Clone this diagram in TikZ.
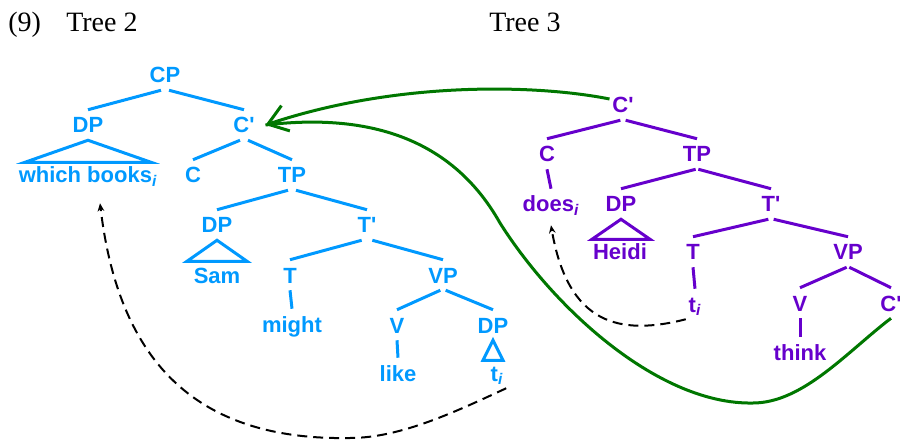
\documentclass[tikz,border=0pt]{standalone}
\usepackage{fontspec}
\setmainfont{Liberation Serif}
\setsansfont{Liberation Sans}
\usetikzlibrary{arrows.meta}

\definecolor{treeblue}{RGB}{0,153,255}
\definecolor{treepurple}{RGB}{102,0,204}
\definecolor{movegreen}{RGB}{0,119,0}

\newcommand{\sub}{\textsubscript{\textit{i}}}
\newcommand{\Cbar}{C\textquotesingle}
\newcommand{\Tbar}{T\textquotesingle}

\begin{document}
\begin{tikzpicture}[
    x=0.75pt, y=-0.75pt,
    >=Stealth,
    cat/.style={font=\sffamily\bfseries\fontsize{16.5}{19}\selectfont, anchor=base, text height=12pt, text depth=0pt, inner xsep=2pt, inner ysep=5.25pt},
    two/.style={cat, text=treeblue},
    three/.style={cat, text=treepurple},
    branch2/.style={draw=treeblue, line width=2.25pt},
    branch3/.style={draw=treepurple, line width=2.25pt},
    move/.style={draw=black, dash pattern=on 7.5pt off 4.5pt, line width=1.5pt, -{Stealth[length=6pt,width=5pt]}},
    remerge/.style={draw=movegreen, line width=2.25pt},
    header/.style={anchor=base west, inner sep=0pt, font=\fontsize{21}{25}\selectfont}
]
\useasboundingbox (0,0) rectangle (900,442);

% Header
\node[header] (exnum) at (8,32) {(9)};
\node[header] (title2) at (66,32) {Tree 2};
\node[header] (title3) at (489,32) {Tree 3};

% Tree 2
\node[two] (cp2) at (165,83) {CP};
\node[two] (dp2) at (88,133) {DP};
\node[two] (cbar2) at (244,133) {\Cbar};
\node[two] (wb) at (88,183) {which books\sub};
\node[two] (c2) at (193,183) {C};
\node[two] (tp2) at (292,183) {TP};
\node[two] (dpsam) at (217,233) {DP};
\node[two] (tbar2) at (367,233) {\Tbar};
\node[two] (sam) at (217,283) {Sam};
\node[two] (t2) at (290,283) {T};
\node[two] (vp2) at (443,283) {VP};
\node[two] (might) at (292,332) {might};
\node[two] (v2) at (397,333) {V};
\node[two] (dpobj) at (493,333) {DP};
\node[two] (like) at (398,381) {like};
\node[two] (ti2) at (497,381) {t\sub};

\draw[branch2] ([xshift=-3pt]cp2.south) -- (dp2.north);
\draw[branch2] ([xshift=3pt]cp2.south) -- (cbar2.north);
\draw[branch2] (dp2.south) -- ++(-63,22) -- ++(126,0) -- cycle;
\draw[branch2] ([xshift=-3pt]cbar2.south) -- (c2.north);
\draw[branch2] ([xshift=3pt]cbar2.south) -- (tp2.north);
\draw[branch2] ([xshift=-3pt]tp2.south) -- (dpsam.north);
\draw[branch2] ([xshift=3pt]tp2.south) -- (tbar2.north);
\draw[branch2] (dpsam.south) -- ++(-30,21) -- ++(60,0) -- cycle;
\draw[branch2] ([xshift=-4pt]tbar2.south) -- (t2.north);
\draw[branch2] ([xshift=4pt]tbar2.south) -- (vp2.north);
\draw[branch2] (t2.south) -- (might.north);
\draw[branch2] ([xshift=-2pt]vp2.south) -- (v2.north);
\draw[branch2] ([xshift=2pt]vp2.south) -- (dpobj.north);
\draw[branch2] (v2.south) -- (like.north);
\draw[branch2] (dpobj.south) -- ++(-10,20) -- ++(20,0) -- cycle;

% Tree 3
\node[three] (cbar3) at (623,113) {\Cbar};
\node[three] (c3) at (547,162) {C};
\node[three] (tp3) at (697,162) {TP};
\node[three] (does) at (551,212) {does\sub};
\node[three] (dp3) at (621,212) {DP};
\node[three] (tbar3) at (771,212) {\Tbar};
\node[three] (heidi) at (620,260) {Heidi};
\node[three] (t3) at (693,260) {T};
\node[three] (vp3) at (848,260) {VP};
\node[three] (ti3) at (695,312) {t\sub};
\node[three] (v3) at (800,311) {V};
\node[three] (cbarlow) at (891,311) {\Cbar};
\node[three] (think) at (800,360) {think};

\draw[branch3] ([xshift=-2pt]cbar3.south) -- (c3.north);
\draw[branch3] ([xshift=2pt]cbar3.south) -- (tp3.north);
\draw[branch3] (c3.south) -- (does.north);
\draw[branch3] ([xshift=-1pt]tp3.south) -- (dp3.north);
\draw[branch3] ([xshift=1pt]tp3.south) -- (tbar3.north);
\draw[branch3] (dp3.south) -- ++(-29,20) -- ++(58,0) -- cycle;
\draw[branch3] ([xshift=-2pt]tbar3.south) -- (t3.north);
\draw[branch3] ([xshift=2pt]tbar3.south) -- (vp3.north);
\draw[branch3] (t3.south) -- (ti3.north);
\draw[branch3] ([xshift=-1pt]vp3.south) -- (v3.north);
\draw[branch3] ([xshift=1pt]vp3.south) -- (cbarlow.north);
\draw[branch3] (v3.south) -- (think.north);

% Movement
\coordinate (hit) at ([xshift=6pt]cbar2.east);
\draw[remerge, -{Straight Barb[length=14pt,width=20pt]}] ([yshift=4.5pt]cbar3.west) .. controls (540,85) and (400,80) .. (hit);
\draw[remerge] (cbarlow.south) .. controls (848,351) and (803,403) .. (753,403)
    .. controls (660,405) and (555,310) .. (500,223)
    .. controls (446,127) and (350,115) .. (hit);
\draw[move] (ti2.south east) .. controls (455,412) and (400,438) .. (350,438)
    .. controls (190,441) and (118,355) .. ([xshift=9pt,yshift=-9.75pt]wb.south);
\draw[move] (ti3.south west) .. controls (620,336) and (568,325) .. ([yshift=-4.5pt]does.south);

\end{tikzpicture}
\end{document}
